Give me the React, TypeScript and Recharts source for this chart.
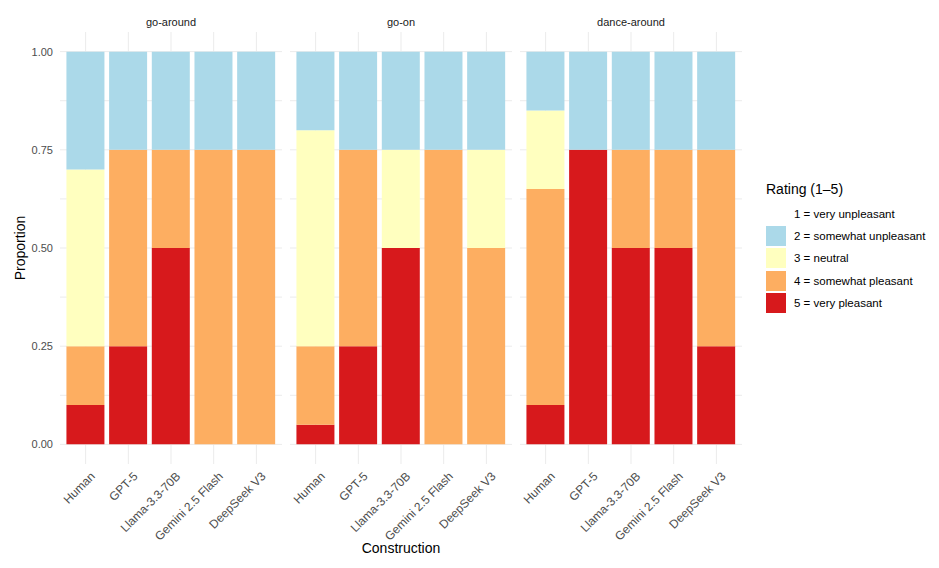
import { Bar, BarChart, CartesianGrid, XAxis, YAxis } from "recharts"

const models = ["Human", "GPT-5", "Llama-3.3-70B", "Gemini 2.5 Flash", "DeepSeek V3"]
const constructions = ["go-around", "go-on", "dance-around"]

// share of each rating per model, one row per construction (same order as above)
const rating1 = [
    [0, 0, 0, 0, 0],
    [0, 0, 0, 0, 0],
    [0, 0, 0, 0, 0],
]
const rating2 = [
    [0.30, 0.25, 0.25, 0.25, 0.25],
    [0.20, 0.25, 0.25, 0.25, 0.25],
    [0.15, 0.25, 0.25, 0.25, 0.25],
]
const rating3 = [
    [0.45, 0, 0, 0, 0],
    [0.55, 0, 0.25, 0, 0.25],
    [0.20, 0, 0, 0, 0],
]
const rating4 = [
    [0.15, 0.50, 0.25, 0.75, 0.75],
    [0.20, 0.50, 0, 0.75, 0.50],
    [0.55, 0, 0.25, 0.25, 0.50],
]
const rating5 = [
    [0.10, 0.25, 0.50, 0, 0],
    [0.05, 0.25, 0.50, 0, 0],
    [0.10, 0.75, 0.50, 0.50, 0.25],
]

const ratingLabels = [
    "1 = very unpleasant",
    "2 = somewhat unpleasant",
    "3 = neutral",
    "4 = somewhat pleasant",
    "5 = very pleasant",
]
const ratingColors = ["#FFFFFF", "#ABD9E9", "#FFFFBF", "#FDAE61", "#D7191C"]

const yTicks = [0, 0.125, 0.25, 0.375, 0.5, 0.625, 0.75, 0.875, 1]
const yLabels = [0, 0.25, 0.5, 0.75, 1]

const font = "'Liberation Sans', Arial, sans-serif"

const facetData = (f: number) =>
    models.map((m, i) => ({
        model: m,
        r1: rating1[f][i],
        r2: rating2[f][i],
        r3: rating3[f][i],
        r4: rating4[f][i],
        r5: rating5[f][i],
    }))

const SlantTick = ({ x, y, payload }: { x?: number, y?: number, payload?: { value: string } }) => (
    <g transform={`translate(${(x ?? 0) + 4},${y})`}>
        <text
            textAnchor="end"
            dy="0.72em"
            transform="rotate(-45)"
            fill="#4D4D4D"
            fontSize={12}
            fontFamily={font}
        >
            {payload?.value}
        </text>
    </g>
)

const panelLeft = [60, 290, 520]
const panelWidth = 222

function Facet({ index }: { index: number }) {
    const first = index === 0
    const axisW = first ? 60 : 0
    return (
        <div style={{ position: "absolute", left: panelLeft[index] - axisW, top: 0 }}>
            <BarChart
                width={panelWidth + axisW}
                height={568}
                data={facetData(index)}
                margin={{ top: 32, right: 0, bottom: 0, left: 0 }}
                barCategoryGap="5%"
            >
                <CartesianGrid stroke="#EBEBEB" strokeWidth={1} syncWithTicks />
                <XAxis
                    dataKey="model"
                    interval={0}
                    axisLine={false}
                    tickLine={false}
                    tickSize={7}
                    tickMargin={0}
                    height={104}
                    padding={{ left: 4.3, right: 4.3 }}
                    tick={<SlantTick />}
                />
                <YAxis
                    hide={!first}
                    width={axisW}
                    domain={[-0.05, 1.05]}
                    allowDataOverflow
                    ticks={yTicks}
                    interval={0}
                    axisLine={false}
                    tickLine={false}
                    tickSize={4}
                    tickMargin={3}
                    tickFormatter={(v: number) => (yLabels.includes(v) ? v.toFixed(2) : "")}
                    tick={{ fill: "#4D4D4D", fontSize: 11, fontFamily: font }}
                />
                <Bar dataKey="r5" stackId="a" fill={ratingColors[4]} isAnimationActive={false} />
                <Bar dataKey="r4" stackId="a" fill={ratingColors[3]} isAnimationActive={false} />
                <Bar dataKey="r3" stackId="a" fill={ratingColors[2]} isAnimationActive={false} />
                <Bar dataKey="r2" stackId="a" fill={ratingColors[1]} isAnimationActive={false} />
                <Bar dataKey="r1" stackId="a" fill={ratingColors[0]} isAnimationActive={false} />
            </BarChart>
        </div>
    )
}

const centered = (x: number, y: number, extra: React.CSSProperties = {}): React.CSSProperties => ({
    position: "absolute",
    left: x,
    top: y,
    transform: "translate(-50%, -50%)",
    whiteSpace: "nowrap",
    ...extra,
})

export default function App() {
    return (
        <div style={{ position: "relative", width: 939, height: 568, background: "#fff", fontFamily: font, overflow: "hidden" }}>
            <style>{"body{margin:0}"}</style>
            {constructions.map((c, i) => (
                <Facet key={c} index={i} />
            ))}
            {constructions.map((c, i) => (
                <div key={c} style={centered(panelLeft[i] + panelWidth / 2, 22, { fontSize: 11, color: "#1A1A1A" })}>
                    {c}
                </div>
            ))}
            <div style={centered(401, 548, { fontSize: 14, color: "#000" })}>Construction</div>
            <div style={centered(20, 248, { fontSize: 14, color: "#000", transform: "translate(-50%, -50%) rotate(-90deg)" })}>
                Proportion
            </div>
            <div style={{ position: "absolute", left: 766, top: 181, fontSize: 14, color: "#000" }}>Rating (1–5)</div>
            {ratingLabels.map((label, i) => (
                <div key={label} style={{ position: "absolute", left: 766, top: 204 + i * 22.2, height: 20, display: "flex", alignItems: "center" }}>
                    <div style={{ width: 20, height: 20, background: ratingColors[i] }} />
                    <span style={{ marginLeft: 8, fontSize: 11.5, color: "#000" }}>{label}</span>
                </div>
            ))}
        </div>
    )
}
